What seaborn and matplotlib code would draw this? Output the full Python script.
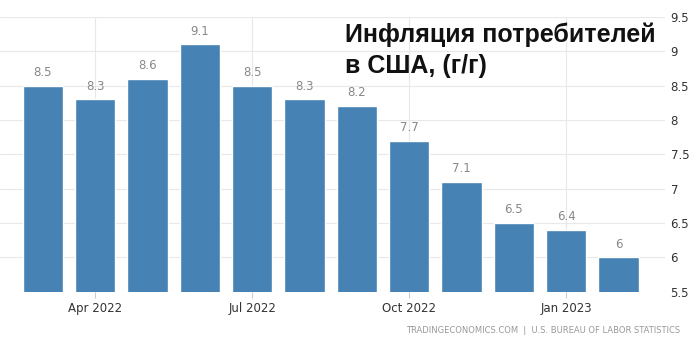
import matplotlib
matplotlib.use("Agg")
import matplotlib.pyplot as plt
from matplotlib import font_manager
import seaborn as sns
import pandas as pd

months = ["Mar 2022", "Apr 2022", "May 2022", "Jun 2022", "Jul 2022", "Aug 2022",
          "Sep 2022", "Oct 2022", "Nov 2022", "Dec 2022", "Jan 2023", "Feb 2023"]
values = [8.5, 8.3, 8.6, 9.1, 8.5, 8.3, 8.2, 7.7, 7.1, 6.5, 6.4, 6.0]
value_labels = ["8.5", "8.3", "8.6", "9.1", "8.5", "8.3", "8.2", "7.7", "7.1", "6.5", "6.4", "6"]
tick_months = ["Apr 2022", "Jul 2022", "Oct 2022", "Jan 2023"]
y_ticks = [5.5, 6, 6.5, 7, 7.5, 8, 8.5, 9, 9.5]
y_tick_labels = ["5.5", "6", "6.5", "7", "7.5", "8", "8.5", "9", "9.5"]
title = "Инфляция потребителей\nв США, (г/г)"
source = "TRADINGECONOMICS.COM  |  U.S. BUREAU OF LABOR STATISTICS"

sns.set_theme(style="white")
plt.rcParams['font.family'] = ['DejaVu Sans']

# locate regular-width Liberation Sans Bold for the title
title_font = None
for f in font_manager.findSystemFonts():
    if f.endswith("LiberationSans-Bold.ttf"):
        title_font = font_manager.FontProperties(fname=f, size=18)
        break
if title_font is None:
    title_font = font_manager.FontProperties(family="DejaVu Sans", weight="bold", size=17)

df = pd.DataFrame({"month": months, "value": values})

fig = plt.figure(figsize=(7, 3.45), dpi=100)
ax = fig.add_axes([0.0, 0.154, 0.95, 0.797])

sns.barplot(data=df, x="month", y="value", color="#4682B4", saturation=1,
            width=0.77, ax=ax, zorder=3)

ax.set_ylim(5.5, 9.5)
ax.set_xlim(-0.82, 11.89)
ax.set_yticks(y_ticks)
ax.set_yticklabels(y_tick_labels)
ax.yaxis.tick_right()
ax.tick_params(axis="y", length=0, pad=4, labelsize=8.5, labelcolor="#333333")

pos = [months.index(m) for m in tick_months]
ax.set_xticks(pos)
ax.set_xticklabels(tick_months)
ax.tick_params(axis="x", length=4, width=0.8, color="#cccccc", pad=3,
               labelsize=8.5, labelcolor="#333333", bottom=True)

ax.grid(True, axis="both", color="#e8e8e8", linewidth=0.8, zorder=0)
for s in ax.spines.values():
    s.set_visible(False)
ax.set_xlabel("")
ax.set_ylabel("")

for i, (v, lab) in enumerate(zip(values, value_labels)):
    ax.text(i, v + 0.1, lab, ha="center", va="bottom", fontsize=8.5, color="#888888", zorder=4)

fig.text(0.493, 0.935, title, ha="left", va="top", fontproperties=title_font,
         color="#111111", linespacing=1.35)

fig.text(0.972, 0.028, source, ha="right", va="bottom", fontsize=6, color="#999999")

fig.savefig("out.png", dpi=100)
